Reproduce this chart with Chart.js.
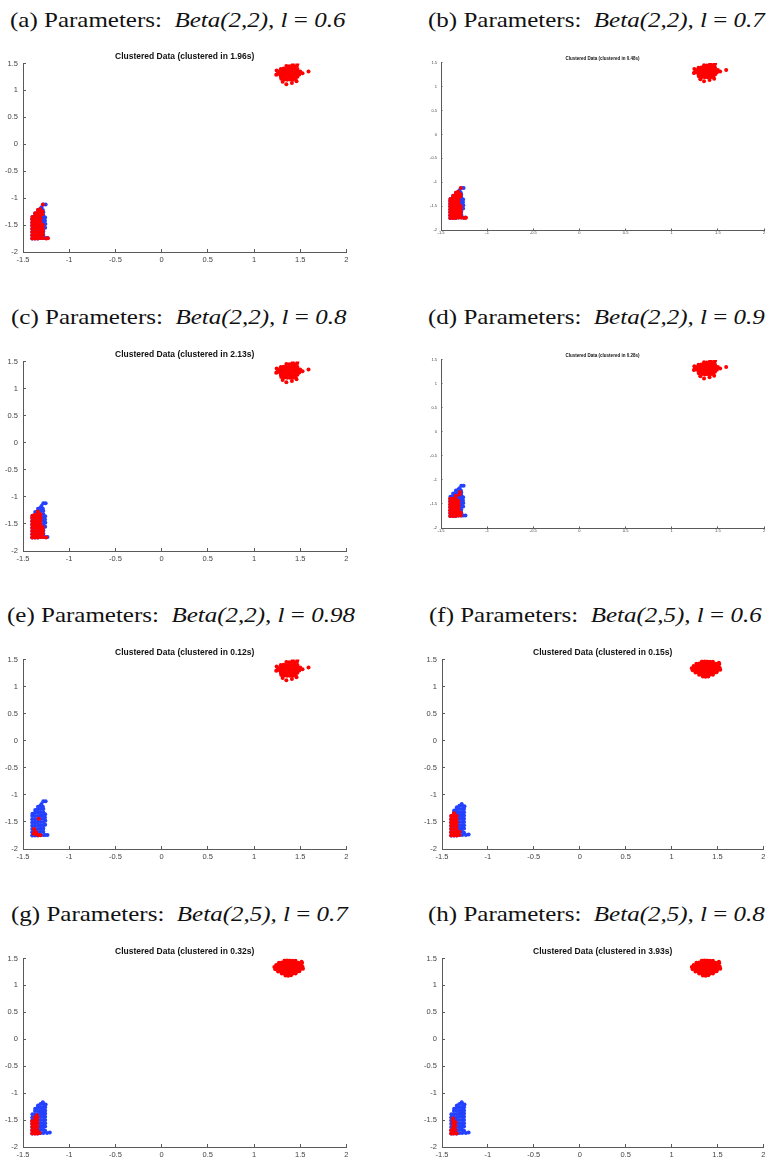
<!DOCTYPE html>
<html>
<head>
<meta charset="utf-8">
<script src="https://cdn.jsdelivr.net/npm/chart.js@4.4.0/dist/chart.umd.min.js"></script>
<style>
html, body { margin: 0; padding: 0; background: #fff; }
#page { position: relative; width: 769px; height: 1160px; overflow: hidden; }
.cap {
    position: absolute;
    font-family: 'Liberation Serif', 'Times New Roman', serif;
    font-size: 21px;
    line-height: 21px;
    white-space: nowrap;
    color: #111;
    transform: scaleX(1.19);
    transform-origin: 0 0;
}
canvas { position: absolute; }
</style>
</head>
<body>
<div id="page"></div>
<script>
// axis ticks (same on every panel)
const xTicks = [-1.5, -1, -0.5, 0, 0.5, 1, 1.5, 2];
const yTicks = [-2, -1.5, -1, -0.5, 0, 0.5, 1, 1.5];
const xTickLabels = ['-1.5', '-1', '-0.5', '0', '0.5', '1', '1.5', '2'];
const yTickLabels = ['-2', '-1.5', '-1', '-0.5', '0', '0.5', '1', '1.5'];

// upper cluster, Beta(2,2) runs
const topB22 = [
    [1.35,1.452],[1.38,1.447],[1.41,1.455],[1.44,1.446],[1.465,1.46],
    [1.29,1.40],[1.32,1.405],[1.35,1.398],[1.38,1.402],[1.41,1.40],[1.44,1.404],[1.47,1.397],
    [1.26,1.352],[1.29,1.348],[1.32,1.35],[1.35,1.355],[1.38,1.347],[1.41,1.352],[1.44,1.349],[1.47,1.353],[1.50,1.35],
    [1.25,1.30],[1.28,1.302],[1.31,1.297],[1.34,1.30],[1.37,1.304],[1.40,1.298],[1.43,1.30],[1.46,1.303],[1.49,1.297],
    [1.29,1.252],[1.32,1.248],[1.35,1.25],[1.38,1.253],[1.41,1.247],[1.44,1.25],[1.47,1.255],
    [1.33,1.205],[1.36,1.198],[1.39,1.202],[1.42,1.20],[1.45,1.21],
    [1.59,1.35],[1.525,1.32],[1.47,1.49],[1.42,1.485],[1.24,1.29],[1.245,1.37],
    [1.35,1.115],[1.41,1.14],[1.46,1.17],[1.295,1.215],[1.31,1.16]
];

// upper cluster, Beta(2,5) runs
const topB25 = [
    [1.33,1.462],[1.36,1.468],[1.39,1.465],[1.42,1.46],[1.45,1.458],
    [1.27,1.42],[1.30,1.425],[1.33,1.418],[1.36,1.42],[1.39,1.423],[1.42,1.42],[1.45,1.417],[1.48,1.422],[1.515,1.44],[1.52,1.415],
    [1.24,1.38],[1.27,1.382],[1.30,1.378],[1.33,1.38],[1.36,1.384],[1.39,1.38],[1.42,1.377],[1.45,1.38],[1.48,1.383],[1.51,1.38],
    [1.22,1.34],[1.25,1.342],[1.28,1.338],[1.31,1.34],[1.34,1.343],[1.37,1.34],[1.40,1.337],[1.43,1.34],[1.46,1.342],[1.49,1.34],[1.525,1.345],
    [1.23,1.30],[1.26,1.302],[1.29,1.298],[1.32,1.30],[1.35,1.303],[1.38,1.30],[1.41,1.297],[1.44,1.30],[1.47,1.302],[1.50,1.30],[1.53,1.31],
    [1.26,1.26],[1.29,1.262],[1.32,1.258],[1.35,1.26],[1.38,1.263],[1.41,1.26],[1.44,1.257],[1.47,1.26],[1.49,1.265],
    [1.30,1.22],[1.33,1.222],[1.36,1.218],[1.39,1.22],[1.42,1.223],[1.45,1.22],
    [1.34,1.185],[1.37,1.18],[1.40,1.187]
];

// lower cluster, whole shape (Beta(2,2))
const lowB22 = [
    [-1.40,-1.75],[-1.40,-1.69],[-1.40,-1.63],[-1.40,-1.57],[-1.40,-1.51],[-1.40,-1.45],[-1.40,-1.39],[-1.398,-1.35],
    [-1.37,-1.75],[-1.37,-1.69],[-1.37,-1.63],[-1.37,-1.57],[-1.37,-1.51],[-1.37,-1.45],[-1.37,-1.39],[-1.37,-1.33],[-1.368,-1.28],
    [-1.34,-1.75],[-1.34,-1.69],[-1.34,-1.63],[-1.34,-1.57],[-1.34,-1.51],[-1.34,-1.45],[-1.34,-1.39],[-1.34,-1.33],[-1.34,-1.27],[-1.338,-1.22],
    [-1.31,-1.74],[-1.31,-1.68],[-1.31,-1.62],[-1.31,-1.56],[-1.31,-1.50],[-1.31,-1.44],[-1.31,-1.38],[-1.31,-1.32],[-1.31,-1.26],[-1.312,-1.20],
    [-1.28,-1.74],[-1.28,-1.68],[-1.28,-1.62],[-1.28,-1.56],[-1.28,-1.50],[-1.28,-1.44],[-1.28,-1.38],[-1.28,-1.32],[-1.28,-1.26],[-1.285,-1.22],
    [-1.26,-1.74],[-1.26,-1.55],[-1.258,-1.48],[-1.262,-1.42],[-1.26,-1.36],
    [-1.235,-1.74],[-1.28,-1.12],[-1.255,-1.12],[-1.30,-1.17]
];

// lower cluster, whole shape (Beta(2,5))
const lowB25 = [
    [-1.40,-1.75],[-1.40,-1.69],[-1.40,-1.63],[-1.40,-1.57],[-1.40,-1.51],[-1.40,-1.45],[-1.398,-1.39],
    [-1.37,-1.75],[-1.37,-1.69],[-1.37,-1.63],[-1.37,-1.57],[-1.37,-1.51],[-1.37,-1.45],[-1.37,-1.39],[-1.37,-1.33],[-1.368,-1.29],
    [-1.34,-1.75],[-1.34,-1.69],[-1.34,-1.63],[-1.34,-1.57],[-1.34,-1.51],[-1.34,-1.45],[-1.34,-1.39],[-1.34,-1.33],[-1.34,-1.27],[-1.338,-1.23],
    [-1.31,-1.74],[-1.31,-1.68],[-1.31,-1.62],[-1.31,-1.56],[-1.31,-1.50],[-1.31,-1.44],[-1.31,-1.38],[-1.31,-1.32],[-1.31,-1.26],[-1.31,-1.20],
    [-1.28,-1.74],[-1.28,-1.68],[-1.28,-1.62],[-1.28,-1.56],[-1.28,-1.50],[-1.28,-1.44],[-1.28,-1.38],[-1.28,-1.32],[-1.28,-1.26],[-1.28,-1.20],[-1.285,-1.17],
    [-1.26,-1.70],[-1.26,-1.62],[-1.26,-1.56],[-1.26,-1.50],[-1.26,-1.44],[-1.26,-1.38],[-1.26,-1.32],[-1.26,-1.26],
    [-1.24,-1.74],[-1.21,-1.73],[-1.255,-1.21]
];

// red part of the lower cluster, per run
const lowRedAB = [
    [-1.40,-1.75],[-1.40,-1.69],[-1.40,-1.63],[-1.40,-1.57],[-1.40,-1.51],[-1.40,-1.45],[-1.40,-1.39],[-1.398,-1.35],
    [-1.37,-1.75],[-1.37,-1.69],[-1.37,-1.63],[-1.37,-1.57],[-1.37,-1.51],[-1.37,-1.45],[-1.37,-1.39],[-1.37,-1.33],[-1.368,-1.28],
    [-1.34,-1.75],[-1.34,-1.69],[-1.34,-1.63],[-1.34,-1.57],[-1.34,-1.51],[-1.34,-1.45],[-1.34,-1.39],[-1.34,-1.33],[-1.34,-1.27],[-1.338,-1.22],
    [-1.31,-1.74],[-1.31,-1.68],[-1.31,-1.62],[-1.31,-1.56],[-1.31,-1.50],[-1.31,-1.44],[-1.31,-1.38],[-1.31,-1.32],[-1.31,-1.26],[-1.315,-1.20],
    [-1.285,-1.74],[-1.285,-1.68],[-1.285,-1.62],[-1.285,-1.56],[-1.285,-1.50],[-1.29,-1.30],[-1.29,-1.25],
    [-1.25,-1.75],[-1.23,-1.745],[-1.285,-1.12]
];
const lowRedC = [
    [-1.40,-1.75],[-1.40,-1.69],[-1.40,-1.63],[-1.40,-1.57],[-1.40,-1.51],[-1.40,-1.45],[-1.40,-1.39],[-1.398,-1.35],
    [-1.37,-1.75],[-1.37,-1.69],[-1.37,-1.63],[-1.37,-1.57],[-1.37,-1.51],[-1.37,-1.45],[-1.37,-1.39],[-1.37,-1.33],
    [-1.34,-1.75],[-1.34,-1.69],[-1.34,-1.63],[-1.34,-1.57],[-1.34,-1.51],[-1.34,-1.45],[-1.34,-1.39],[-1.34,-1.33],[-1.34,-1.27],
    [-1.31,-1.74],[-1.31,-1.68],[-1.31,-1.62],[-1.31,-1.56],[-1.31,-1.50],[-1.31,-1.44],[-1.31,-1.38],[-1.31,-1.32],
    [-1.285,-1.74],[-1.285,-1.68],[-1.285,-1.62],[-1.285,-1.56],
    [-1.25,-1.75]
];
const lowRedD = [
    [-1.40,-1.75],[-1.40,-1.69],[-1.40,-1.63],[-1.40,-1.57],[-1.40,-1.51],[-1.40,-1.45],[-1.40,-1.39],
    [-1.37,-1.75],[-1.37,-1.69],[-1.37,-1.63],[-1.37,-1.57],[-1.37,-1.51],[-1.37,-1.45],[-1.37,-1.39],
    [-1.34,-1.75],[-1.34,-1.69],[-1.34,-1.63],[-1.34,-1.57],[-1.34,-1.51],[-1.34,-1.45],[-1.34,-1.39],[-1.34,-1.33],
    [-1.31,-1.74],[-1.31,-1.68],[-1.31,-1.62],[-1.31,-1.56],[-1.31,-1.50],[-1.31,-1.44],[-1.30,-1.30],[-1.295,-1.25],
    [-1.285,-1.74],[-1.285,-1.68]
];
const lowRedE = [
    [-1.33,-1.44],[-1.38,-1.63],[-1.37,-1.67],[-1.36,-1.70],[-1.35,-1.73],[-1.33,-1.74],[-1.31,-1.745],[-1.385,-1.72]
];
const lowRedF = [
    [-1.40,-1.75],[-1.40,-1.69],[-1.40,-1.63],[-1.40,-1.57],[-1.40,-1.51],[-1.40,-1.45],[-1.40,-1.39],
    [-1.37,-1.75],[-1.37,-1.69],[-1.37,-1.63],[-1.37,-1.57],[-1.37,-1.51],[-1.37,-1.45],[-1.37,-1.39],[-1.37,-1.34],
    [-1.34,-1.75],[-1.34,-1.69],[-1.34,-1.63],[-1.34,-1.57],[-1.34,-1.51],[-1.34,-1.45],[-1.34,-1.39],
    [-1.31,-1.74],[-1.31,-1.68]
];
const lowRedG = [
    [-1.40,-1.75],[-1.40,-1.69],[-1.40,-1.63],[-1.40,-1.57],[-1.40,-1.52],
    [-1.37,-1.75],[-1.37,-1.69],[-1.37,-1.63],[-1.37,-1.57],[-1.37,-1.51],[-1.37,-1.45],
    [-1.345,-1.75],[-1.345,-1.69],[-1.345,-1.63],[-1.345,-1.57],[-1.345,-1.51],[-1.345,-1.45],[-1.35,-1.41],
    [-1.32,-1.74]
];
const lowRedH = [
    [-1.40,-1.75],[-1.40,-1.69],
    [-1.38,-1.75],[-1.38,-1.69],[-1.38,-1.63],[-1.38,-1.57],[-1.38,-1.51],[-1.38,-1.47],
    [-1.355,-1.745],[-1.355,-1.68],[-1.355,-1.61],[-1.355,-1.54],
    [-1.34,-1.75]
];

// the eight runs
const runTags   = ['a', 'b', 'c', 'd', 'e', 'f', 'g', 'h'];
const runBeta   = ['2,2', '2,2', '2,2', '2,2', '2,2', '2,5', '2,5', '2,5'];
const runL      = ['0.6', '0.7', '0.8', '0.9', '0.98', '0.6', '0.7', '0.8'];
const runTimes  = ['1.96', '0.48', '2.13', '0.28', '0.12', '0.15', '0.32', '3.93'];
const runTop    = [topB22, topB22, topB22, topB22, topB22, topB25, topB25, topB25];
const runLowRed = [lowRedAB, lowRedAB, lowRedC, lowRedD, lowRedE, lowRedF, lowRedG, lowRedH];
const runLowBlue = [lowB22, lowB22, lowB22, lowB22, lowB22, lowB25, lowB25, lowB25];

// page layout: caption spot and plot box of each panel
const layout = [
    { capX: 10,  capY: 10,  l: 23,  r: 347, t: 62,  b: 252,  small: false },
    { capX: 428, capY: 10,  l: 441, r: 764, t: 61,  b: 230,  small: true  },
    { capX: 11,  capY: 307, l: 23,  r: 347, t: 360, b: 551,  small: false },
    { capX: 428, capY: 307, l: 441, r: 764, t: 358, b: 528,  small: true  },
    { capX: 7,   capY: 605, l: 23,  r: 347, t: 658, b: 849,  small: false },
    { capX: 429, capY: 605, l: 442, r: 764, t: 658, b: 849,  small: false },
    { capX: 11,  capY: 904, l: 23,  r: 347, t: 957, b: 1147, small: false },
    { capX: 428, capY: 904, l: 442, r: 764, t: 957, b: 1147, small: false }
];

const FAMILY = "'Liberation Sans Narrow', 'Liberation Sans', Arial, sans-serif";
const RED = 'rgb(255,0,0)';
const BLUE = 'rgb(35,65,255)';
const AXIS = '#5a5a5a';

function toXY(list) {
    return list.map(p => ({ x: p[0], y: p[1] }));
}

function addPanel(i) {
    const page = document.getElementById('page');
    const box = layout[i];
    const s = box.small;

    const cap = document.createElement('div');
    cap.className = 'cap';
    cap.style.left = box.capX + 'px';
    cap.style.top = box.capY + 'px';
    cap.innerHTML = '(' + runTags[i] + ') Parameters: &nbsp;<i>Beta(' + runBeta[i] + '), l</i> = <i>' + runL[i] + '</i>';
    page.appendChild(cap);

    const axW = s ? 12 : 23;
    const axH = s ? 8 : 14;
    const titleSize = s ? 4.5 : 8.5;
    const titlePad = s ? 1.5 : 2.5;
    const titleH = titleSize + titlePad;
    const padR = 8;
    const w = box.r - box.l, h = box.b - box.t;

    const canvas = document.createElement('canvas');
    canvas.width = axW + w + padR;
    canvas.height = titleH + h + axH + 2;
    canvas.style.left = (box.l - axW) + 'px';
    canvas.style.top = (box.t - titleH) + 'px';
    page.appendChild(canvas);

    const tickFont = { family: FAMILY, size: s ? 4 : 7.5 };
    const tl = s ? -1.5 : -3;

    new Chart(canvas, {
        type: 'scatter',
        data: {
            datasets: [
                {
                    label: 'cluster 1',
                    data: toXY(runTop[i].concat(runLowRed[i])),
                    backgroundColor: RED,
                    borderColor: RED,
                    borderWidth: 0,
                    pointRadius: 2
                },
                {
                    label: 'cluster 2',
                    data: toXY(runLowBlue[i]),
                    backgroundColor: BLUE,
                    borderColor: BLUE,
                    borderWidth: 0,
                    pointRadius: 2
                }
            ]
        },
        options: {
            responsive: false,
            animation: false,
            events: [],
            layout: { padding: { left: 0, top: 0, right: padR, bottom: 2 } },
            plugins: {
                legend: { display: false },
                tooltip: { enabled: false },
                title: {
                    display: true,
                    fullSize: false,
                    text: 'Clustered Data (clustered in ' + runTimes[i] + 's)',
                    color: '#111',
                    font: { family: FAMILY, size: titleSize, weight: 'bold', lineHeight: 1 },
                    padding: { top: 0, bottom: titlePad }
                }
            },
            scales: {
                x: {
                    type: 'linear',
                    min: xTicks[0],
                    max: xTicks[xTicks.length - 1],
                    afterFit: sc => { sc.height = axH; },
                    border: { display: true, color: AXIS, width: 1 },
                    grid: { drawOnChartArea: false, drawTicks: true, tickLength: tl, tickColor: AXIS },
                    ticks: {
                        stepSize: 0.5,
                        color: '#444',
                        font: tickFont,
                        padding: s ? 2.4 : 6.5,
                        maxRotation: 0,
                        autoSkip: false,
                        callback: v => xTickLabels[xTicks.indexOf(v)]
                    }
                },
                y: {
                    type: 'linear',
                    min: yTicks[0],
                    max: yTicks[yTicks.length - 1],
                    afterFit: sc => { sc.width = axW; },
                    border: { display: true, color: AXIS, width: 1 },
                    grid: { drawOnChartArea: false, drawTicks: true, tickLength: tl, tickColor: AXIS },
                    ticks: {
                        stepSize: 0.5,
                        color: '#444',
                        font: tickFont,
                        padding: s ? 5.5 : 8,
                        autoSkip: false,
                        callback: v => yTickLabels[yTicks.indexOf(v)]
                    }
                }
            }
        }
    });
}

for (let i = 0; i < runTags.length; i++) addPanel(i);
</script>
</body>
</html>
